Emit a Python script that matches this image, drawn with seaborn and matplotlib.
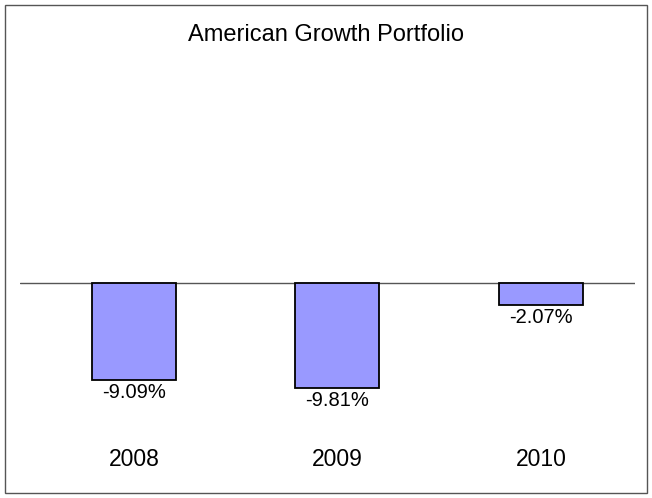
import matplotlib
matplotlib.use("Agg")
import matplotlib.pyplot as plt
import seaborn as sns
import pandas as pd
from matplotlib.patches import Rectangle

# chart data
years = ["2008", "2009", "2010"]
returns = [-9.09, -9.81, -2.07]
labels = ["-9.09%", "-9.81%", "-2.07%"]
title = "American Growth Portfolio"

BAR_COLOR = "#9999FF"


def main():
    sns.set_style("white")
    plt.rcParams["font.family"] = ["Liberation Sans", "DejaVu Sans"]
    plt.rcParams["text.color"] = "black"
    plt.rcParams["xtick.color"] = "black"

    df = pd.DataFrame({"year": years, "ret": returns})

    fig = plt.figure(figsize=(6.52, 4.98), dpi=100)
    ax = fig.add_axes([20 / 652, 58 / 498, 615 / 652, 380 / 498])

    sns.barplot(data=df, x="year", y="ret", color=BAR_COLOR, saturation=1,
                edgecolor="black", linewidth=1.3, width=0.413, ax=ax)

    ax.axhline(0, color="#555555", linewidth=1, zorder=0)

    # value labels under each bar
    for i, (v, lab) in enumerate(zip(returns, labels)):
        ax.annotate(lab, (i, v), xytext=(0, -2), textcoords="offset points",
                    ha="center", va="top", fontsize=14.5, color="black")

    ax.set_xlim(-0.560, 2.462)
    ax.set_ylim(-14.67, 20.84)
    ax.set_xlabel("")
    ax.set_ylabel("")
    ax.set_yticks([])
    ax.tick_params(axis="x", length=0, pad=6, labelsize=16.5, labelcolor="black")
    for s in ax.spines.values():
        s.set_visible(False)

    fig.text(0.5, 1 - 35 / 498, title, ha="center", va="center",
             fontsize=17, color="black")

    # outer frame
    fig.patches.append(Rectangle((5 / 652, 5 / 498), 642 / 652, 488 / 498,
                                 transform=fig.transFigure, fill=False,
                                 edgecolor="#555555", linewidth=1))

    fig.savefig("out.png", dpi=100)
    plt.close(fig)


if __name__ == "__main__":
    main()
